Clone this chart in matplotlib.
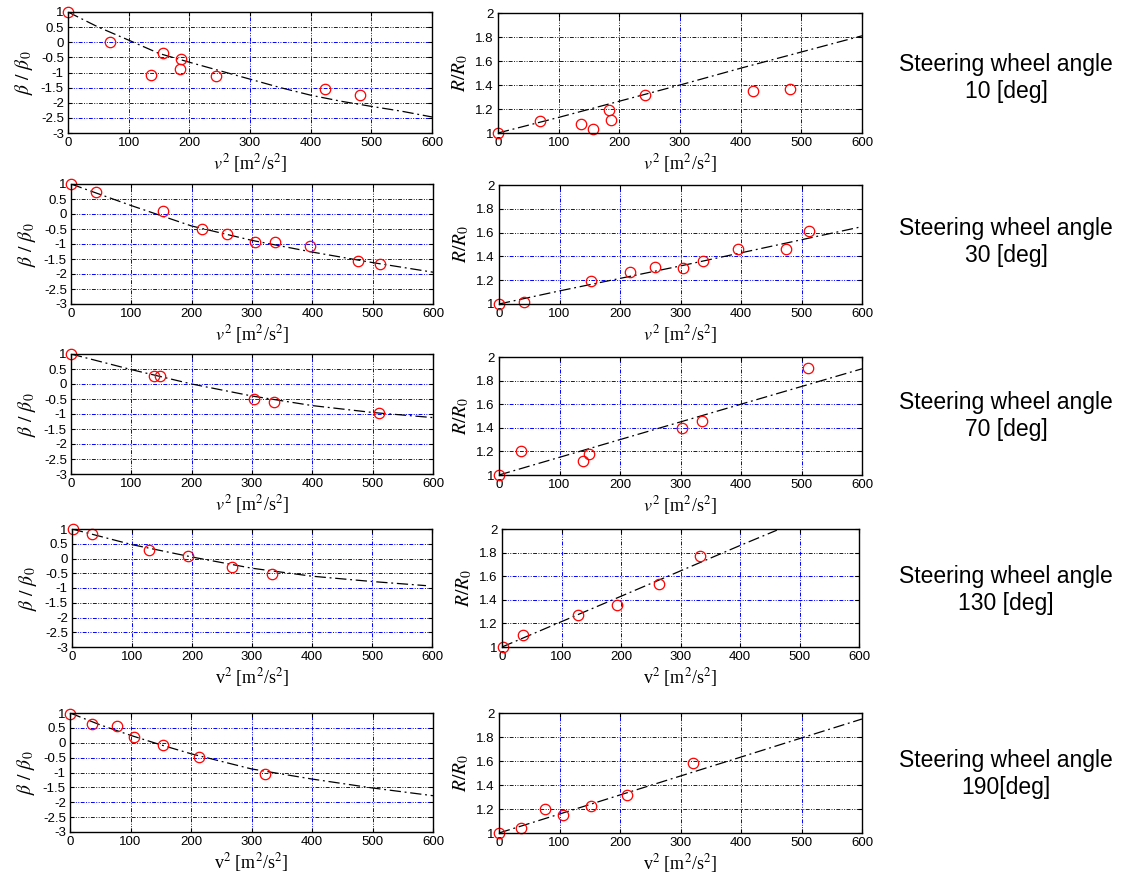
"""Sideslip and turning-radius ratios against squared speed, five steering angles."""

import matplotlib

matplotlib.use("Agg")

import matplotlib.pyplot as plt
from matplotlib.ticker import FuncFormatter, MultipleLocator

plt.rcParams["font.family"] = ["Liberation Sans", "DejaVu Sans"]
plt.rcParams["mathtext.fontset"] = "stix"
plt.rcParams["axes.unicode_minus"] = False

W, H = 1126, 882

ANGLES = ["10", "30", "70", "130", "190"]

# measured points, beta / beta_0
BETA_V2 = [
    [0, 70, 137, 157, 184, 187, 244, 423, 482],
    [0, 41, 152, 217, 258, 305, 338, 396, 475, 512],
    [0, 138, 148, 303, 337, 511],
    [1, 34, 128, 194, 266, 334],
    [0, 37, 77, 106, 153, 213, 322],
]
BETA_VAL = [
    [1.0, 0.0, -1.07, -0.34, -0.9, -0.56, -1.12, -1.53, -1.74],
    [1.0, 0.72, 0.11, -0.5, -0.68, -0.93, -0.92, -1.08, -1.57, -1.67],
    [1.0, 0.26, 0.28, -0.51, -0.59, -0.97],
    [1.0, 0.83, 0.3, 0.08, -0.28, -0.51],
    [0.98, 0.63, 0.57, 0.19, -0.09, -0.47, -1.05],
]

# measured points, R / R_0
R_V2 = [
    [0, 69, 136, 157, 183, 186, 243, 421, 482],
    [0, 41, 152, 217, 258, 304, 337, 395, 474, 512],
    [0, 36, 139, 148, 303, 336, 510],
    [2, 35, 127, 194, 264, 333],
    [0, 36, 76, 105, 152, 212, 321],
]
R_VAL = [
    [1.0, 1.1, 1.073, 1.036, 1.19, 1.11, 1.32, 1.35, 1.37],
    [1.0, 1.014, 1.197, 1.27, 1.31, 1.3, 1.365, 1.458, 1.463, 1.615],
    [1.0, 1.203, 1.12, 1.177, 1.4, 1.46, 1.907],
    [1.0, 1.1, 1.27, 1.36, 1.53, 1.77],
    [1.0, 1.04, 1.2, 1.154, 1.226, 1.32, 1.58],
]

# model curves
BETA_FIT_V2 = [
    [0, 50, 100, 150, 200, 250, 300, 350, 400, 450, 500, 550, 600],
    [0, 100, 200, 300, 400, 500, 600],
    [0, 100, 200, 300, 400, 500, 600],
    [0, 100, 200, 300, 400, 500, 590],
    [0, 50, 100, 150, 200, 300, 400, 500, 600],
]
BETA_FIT = [
    [1.0, 0.5, 0.07, -0.37, -0.66, -0.94, -1.22, -1.5, -1.75, -1.95, -2.12, -2.28, -2.47],
    [1.0, 0.28, -0.4, -0.88, -1.27, -1.62, -1.94],
    [1.0, 0.48, 0.0, -0.4, -0.72, -0.95, -1.12],
    [1.0, 0.47, 0.05, -0.33, -0.6, -0.78, -0.92],
    [1.0, 0.6, 0.25, -0.07, -0.37, -0.88, -1.22, -1.52, -1.78],
]
R_FIT_V2 = [
    [0, 100, 200, 300, 400, 500, 600],
    [0, 100, 200, 300, 400, 500, 600],
    [0, 100, 200, 300, 400, 500, 600],
    [0, 100, 200, 300, 400, 462],
    [0, 100, 200, 300, 400, 500, 600],
]
R_FIT = [
    [1.0, 1.13, 1.265, 1.4, 1.54, 1.675, 1.81],
    [1.0, 1.11, 1.215, 1.32, 1.43, 1.54, 1.65],
    [1.0, 1.15, 1.3, 1.45, 1.6, 1.75, 1.9],
    [1.0, 1.215, 1.43, 1.645, 1.86, 1.99],
    [1.0, 1.158, 1.317, 1.475, 1.633, 1.792, 1.95],
]

# axes boxes in pixels: (left, right, top, bottom)
LEFT_BOX = [(68, 432, 12, 133), (71, 433, 184, 304), (71, 433, 354, 474),
            (72, 432, 529, 647), (70, 433, 713, 832)]
RIGHT_BOX = [(498, 862, 13, 133), (499, 862, 185, 304), (499, 862, 357, 475),
             (502, 859, 529, 647), (499, 862, 713, 833)]
NOTE_Y = [78, 242, 416, 590, 774]

GRID_STYLE = (0, (4, 1.5, 1, 1.5, 1, 1.5))
FIT_STYLE = (0, (9, 3, 1.5, 3))


def _axes(fig, box):
    x0, x1, y0, y1 = box
    return fig.add_axes([x0 / W, 1 - y1 / H, (x1 - x0) / W, (y1 - y0) / H])


def _style(ax, row, ylabel, ymin, ymax, ystep):
    ax.set_xlim(0, 600)
    ax.set_ylim(ymin, ymax)
    ax.xaxis.set_major_locator(MultipleLocator(100))
    ax.yaxis.set_major_locator(MultipleLocator(ystep))
    ax.yaxis.set_major_formatter(FuncFormatter(lambda v, _: f"{v:g}"))
    ax.tick_params(direction="in", length=3, width=0.8, labelsize=9.5,
                   top=True, right=True, pad=3)
    ax.grid(True, color="#0000ff", linestyle=GRID_STYLE, linewidth=0.7)
    for spine in ax.spines.values():
        spine.set_linewidth(1.0)
    if row < 3:
        xlabel = r"$v^2$ [m$^2$/s$^2$]"
    else:
        xlabel = r"v$^2$ [m$^2$/s$^2$]"
    ax.set_xlabel(xlabel, fontsize=13, family="Liberation Serif", labelpad=2)
    ax.set_ylabel(ylabel, fontsize=14, labelpad=4)


fig = plt.figure(figsize=(W / 100, H / 100), dpi=100)

for row in range(5):
    ax = _axes(fig, LEFT_BOX[row])
    ax.plot(BETA_FIT_V2[row], BETA_FIT[row], color="black",
            linestyle=FIT_STYLE, linewidth=0.9)
    ax.plot(BETA_V2[row], BETA_VAL[row], "o", color="red", mfc="none",
            markersize=7.5, mew=0.9, clip_on=False)
    _style(ax, row, r"$\beta\ /\ \beta_{\,0}$", -3, 1, 0.5)

    ax = _axes(fig, RIGHT_BOX[row])
    ax.plot(R_FIT_V2[row], R_FIT[row], color="black",
            linestyle=FIT_STYLE, linewidth=0.9)
    ax.plot(R_V2[row], R_VAL[row], "o", color="red", mfc="none",
            markersize=7.5, mew=0.9, clip_on=False)
    _style(ax, row, r"$R/R_{0}$", 1, 2, 0.2)

    fig.text(1006 / W, 1 - NOTE_Y[row] / H,
             f"Steering wheel angle\n{ANGLES[row]}" + (" [deg]" if row < 4 else "[deg]"),
             ha="center", va="center", fontsize=16.5, linespacing=1.25)

fig.savefig("out.png", dpi=100)
